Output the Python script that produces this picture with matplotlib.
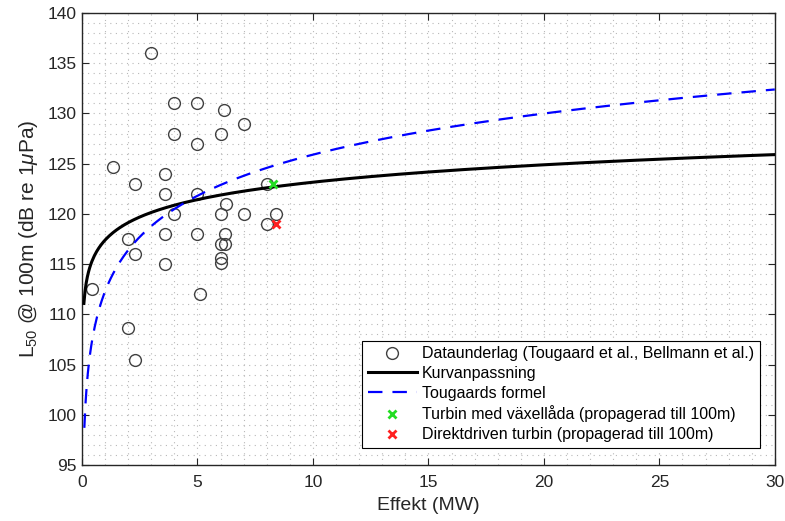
import numpy as np
import matplotlib
matplotlib.use('Agg')
import matplotlib.pyplot as plt
from matplotlib.ticker import MultipleLocator

plt.rcParams['font.family'] = ['Liberation Sans', 'DejaVu Sans']
plt.rcParams['mathtext.fontset'] = 'custom'
plt.rcParams['mathtext.rm'] = 'Liberation Sans'
plt.rcParams['mathtext.it'] = 'Liberation Sans:italic'

# measured data (Tougaard et al., Bellmann et al.)
effekt = [0.42, 1.36, 2.0, 2.0, 2.3, 2.3, 2.3, 3.0, 3.6, 3.6, 3.6, 3.6,
          4.0, 4.0, 4.0, 5.0, 5.0, 5.0, 5.0, 5.1, 6.0, 6.0, 6.0, 6.0, 6.0,
          6.15, 6.2, 6.2, 6.25, 7.0, 7.0, 8.0, 8.0, 8.4]
niva = [112.5, 124.7, 117.5, 108.6, 123.0, 116.0, 105.5, 136.0, 124.0, 122.0, 118.0, 115.0,
        131.0, 128.0, 120.0, 131.0, 127.0, 122.0, 118.0, 112.0, 128.0, 120.0, 117.0, 115.6, 115.1,
        130.3, 118.0, 117.0, 121.0, 129.0, 120.0, 123.0, 119.0, 120.0]

# turbines propagated to 100 m
vaxel_x, vaxel_y = [8.25], [123.0]
direkt_x, direkt_y = [8.4], [119.0]

# curve fit L = b + a*ln(P)
fit_a, fit_b = 2.5, 117.4
# Tougaard: L = c + 13.6*log10(P)
toug_k, toug_c = 13.6, 112.3

p_fit = np.linspace(0.08, 30, 600)
p_toug = np.linspace(0.1, 30, 600)

fig = plt.figure(figsize=(7.85, 5.21), dpi=100)
ax = fig.add_axes([0.1045, 0.1075, 0.8825, 0.8675])

ax.plot(effekt, niva, 'o', mfc='none', mec='#404040', ms=8.5, mew=1.0,
        label='Dataunderlag (Tougaard et al., Bellmann et al.)', zorder=3)
ax.plot(p_fit, fit_b + fit_a * np.log(p_fit), color='k', lw=2.2, label='Kurvanpassning', zorder=4)
ax.plot(p_toug, toug_c + toug_k * np.log10(p_toug), color='#0000ff', lw=1.6,
        dashes=[6.5, 4.5], label='Tougaards formel', zorder=4)
ax.plot(vaxel_x, vaxel_y, 'x', color='#22dd22', ms=6, mew=2,
        label='Turbin med växellåda (propagerad till 100m)', zorder=5)
ax.plot(direkt_x, direkt_y, 'x', color='#ff2020', ms=6, mew=2,
        label='Direktdriven turbin (propagerad till 100m)', zorder=5)

ax.set_xlim(0, 30)
ax.set_ylim(95, 140)
ax.xaxis.set_major_locator(MultipleLocator(5))
ax.yaxis.set_major_locator(MultipleLocator(5))
ax.xaxis.set_minor_locator(MultipleLocator(1))
ax.yaxis.set_minor_locator(MultipleLocator(1))
ax.grid(which='both', color='#b8b8b8', linestyle=(0, (1, 4)), lw=0.8)
ax.set_axisbelow(True)

ax.tick_params(which='major', direction='in', length=5, width=0.8, top=True, right=True,
               labelsize=12.5, colors='#262626')
ax.tick_params(axis='y', pad=4)
ax.tick_params(axis='x', pad=7)
ax.tick_params(which='minor', length=0)
for s in ax.spines.values():
    s.set_color('#262626')
    s.set_linewidth(1.0)

ax.set_xlabel('Effekt (MW)', fontsize=14, color='#262626', labelpad=5)
ax.set_ylabel(r'L$_{50}$ @ 100m (dB re 1$\mu$Pa)', fontsize=15, color='#262626', labelpad=5)

leg = ax.legend(loc='lower right', bbox_to_anchor=(0.978, 0.038), borderaxespad=0,
                fontsize=11.5, handlelength=3.1, handletextpad=0.3, labelspacing=0.3,
                fancybox=False, framealpha=1, edgecolor='k', borderpad=0.35)
leg.get_frame().set_linewidth(0.8)

fig.savefig('out.png', dpi=100)
